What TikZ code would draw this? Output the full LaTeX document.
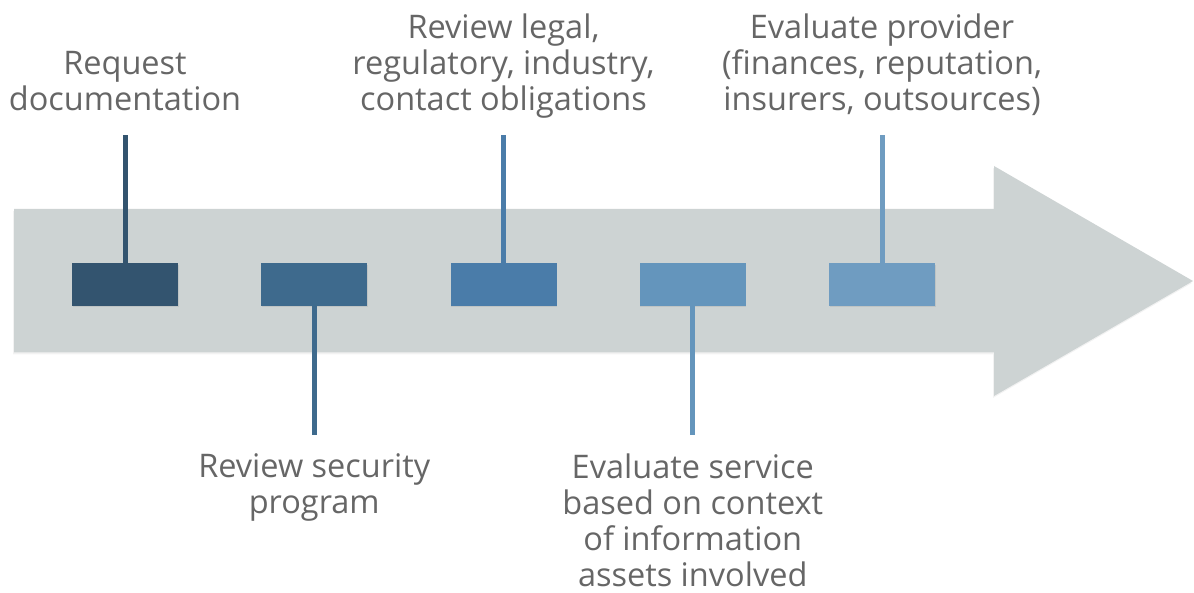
\documentclass[tikz,border=0pt]{standalone}
\usepackage{fontspec}
\setmainfont{Open Sans}
\usetikzlibrary{positioning,shadows}

\definecolor{arrowgray}{HTML}{CDD3D3}
\definecolor{textgray}{HTML}{666666}
\definecolor{stepa}{HTML}{33546F}
\definecolor{stepb}{HTML}{3E6A8D}
\definecolor{stepc}{HTML}{4A7CA9}
\definecolor{stepd}{HTML}{6495BC}
\definecolor{stepe}{HTML}{6F9CC1}

\begin{document}
\begin{tikzpicture}
	[x=1pt, y=-1pt,
	 stepbox/.style={rectangle, minimum width=106pt, minimum height=42.5pt, inner sep=0pt,
	 	drop shadow={opacity=0.18, shadow xshift=0.5pt, shadow yshift=-1.5pt}},
	 stem/.style={line width=5pt},
	 lbl/.style={align=center, inner sep=0pt, text=textgray,
	 	font=\fontsize{32.5}{36}\selectfont},
	 toplbl/.style={lbl, execute at end node=\strut},
	 botlbl/.style={lbl, execute at begin node=\strut}]
	\useasboundingbox (0,0) rectangle (1194,593);
	% big arrow in the back
	\fill[arrowgray, drop shadow={opacity=0.1, shadow xshift=-1pt, shadow yshift=-2pt}]
		(14,209) -- (994,209) -- (994,166) -- (1193,281) -- (994,396) -- (994,352.5) -- (14,352.5) -- cycle;
	% steps
	\node[stepbox, fill=stepa] (s1) at (125,284.5) {};
	\node[stepbox, fill=stepb] (s2) at (314.25,284.5) {};
	\node[stepbox, fill=stepc] (s3) at (503.5,284.5) {};
	\node[stepbox, fill=stepd] (s4) at (692.75,284.5) {};
	\node[stepbox, fill=stepe] (s5) at (882,284.5) {};
	% stems
	\coordinate (e1) at (125,135);
	\coordinate (e2) at (314.25,435);
	\coordinate (e3) at (503.5,135);
	\coordinate (e4) at (692.75,435);
	\coordinate (e5) at (882,135);
	\draw[stem, stepa] (s1.north) -- (e1);
	\draw[stem, stepb] (s2.south) -- (e2);
	\draw[stem, stepc] (s3.north) -- (e3);
	\draw[stem, stepd] (s4.south) -- (e4);
	\draw[stem, stepe] (s5.north) -- (e5);
	% labels
	\node[toplbl, above=13.2pt of e1] (t1) {Request\\documentation};
	\node[botlbl, below=18.6pt of e2] (t2) {Review security\\program};
	\node[toplbl, above=13.2pt of e3] (t3) {Review legal,\\regulatory, industry,\\contact obligations};
	\node[botlbl, below=18.6pt of e4] (t4) {Evaluate service\\based on context\\of information\\assets involved};
	\node[toplbl, above=13.2pt of e5] (t5) {Evaluate provider\\(finances, reputation,\\insurers, outsources)};
\end{tikzpicture}
\end{document}
